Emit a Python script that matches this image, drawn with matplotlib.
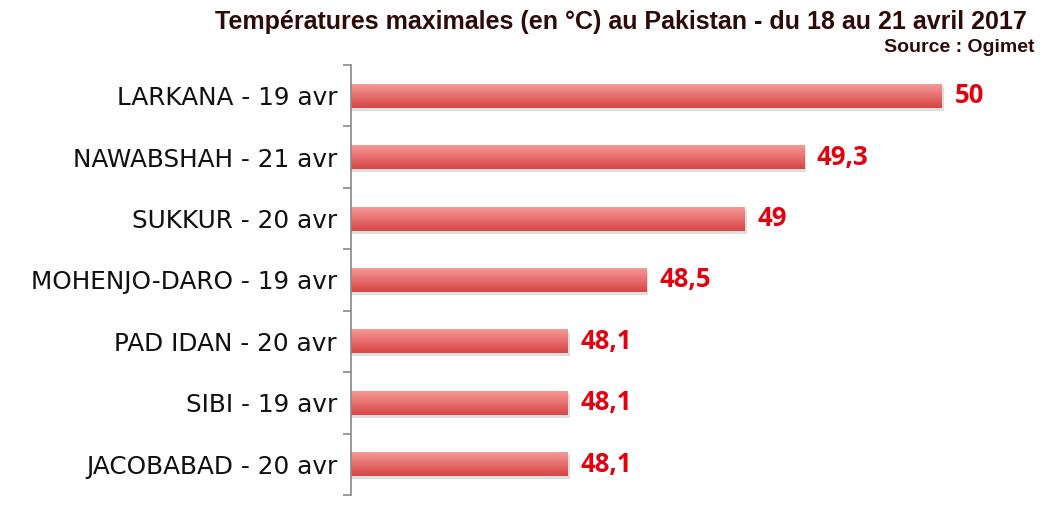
import numpy as np
import matplotlib
matplotlib.use('Agg')
import matplotlib.pyplot as plt
from matplotlib.colors import LinearSegmentedColormap

stations = ['LARKANA - 19 avr', 'NAWABSHAH - 21 avr', 'SUKKUR - 20 avr',
            'MOHENJO-DARO - 19 avr', 'PAD IDAN - 20 avr', 'SIBI - 19 avr',
            'JACOBABAD - 20 avr']
temps = [50, 49.3, 49, 48.5, 48.1, 48.1, 48.1]
labels = ['50', '49,3', '49', '48,5', '48,1', '48,1', '48,1']

base = 47
fig = plt.figure(figsize=(10.55, 5.12), dpi=100)
ax = fig.add_axes([351/1055, 1-495/512, (1040-351)/1055, 430/512])

n = len(stations)
y = np.arange(n)
h = 0.39
cmap = LinearSegmentedColormap.from_list('bar', ['#d84444', '#f59a98'])
grad = np.linspace(0, 1, 50).reshape(-1, 1)

for i, (t, lab) in enumerate(zip(temps, labels)):
    # shadow
    ax.add_patch(plt.Rectangle((base, i - h/2 + 0.05), t - base + 0.01, h,
                               color='#c8c8c8', alpha=0.6, lw=0, zorder=1))
    ax.imshow(grad, cmap=cmap, aspect='auto', origin='lower',
              extent=(base, t, i + h/2, i - h/2), zorder=2)
    ax.text(t + 0.065, i, lab, color='#e3000f', fontsize=18.5, fontweight='bold',
            va='center', ha='left', family='Open Sans')

ax.set_xlim(base, base + (1040-351)/197)
ax.set_ylim(n - 0.5, -0.5)
ax.set_yticks(np.arange(n + 1) - 0.5, minor=True)
ax.set_yticks(y)
ax.set_yticklabels(stations, fontsize=17.8, family='DejaVu Sans', color='#111111')
ax.tick_params(axis='y', which='major', length=0, pad=10)
ax.tick_params(axis='y', which='minor', length=6, color='#888888', width=1.2)
ax.set_xticks([])
for s in ['top', 'right', 'bottom']:
    ax.spines[s].set_visible(False)
ax.spines['left'].set_color('#888888')
ax.spines['left'].set_linewidth(1.2)

fig.text(0.589, 0.958, 'Températures maximales (en °C) au Pakistan - du 18 au 21 avril 2017',
         ha='center', va='center', fontsize=18, fontweight='bold',
         color='#2e0a0a', family='Liberation Sans')
fig.text(0.981, 0.907, 'Source : Ogimet', ha='right', va='center', fontsize=14,
         fontweight='bold', color='#2e0a0a', family='Liberation Sans')

fig.savefig('out.png', dpi=100)
